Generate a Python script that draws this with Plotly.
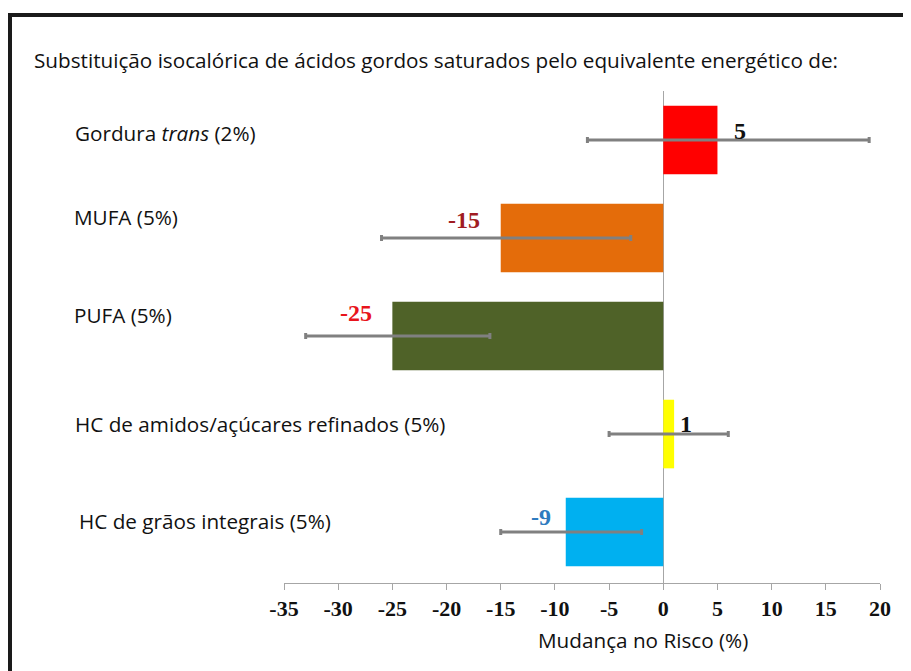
import plotly.graph_objects as go

categories = ["Gordura <i>trans</i> (2%)", "MUFA (5%)", "PUFA (5%)",
              "HC de amidos/açúcares refinados (5%)", "HC de grãos integrais (5%)"]
values = [5, -15, -25, 1, -9]
ci_low = [-7, -26, -33, -5, -15]
ci_high = [19, -3, -16, 6, -2]
value_labels = ["5", "-15", "-25", "1", "-9"]
tick_values = [-35, -30, -25, -20, -15, -10, -5, 0, 5, 10, 15, 20]

bar_colors = ["#ff0000", "#e46c0a", "#4f6228", "#ffff00", "#00b0f0"]
label_colors = ["#111111", "#a01c22", "#e8141c", "#111111", "#2e7bbf"]
# styling offsets (pixels) for value labels and category labels
val_xshift = [23, -37, -36, 12, -25]
val_yshift = [9, 18, 23, 10, 15]
cat_yshift = [7, 21, 21, 10, 11]

# page has an 8px body margin; figure sized to fit the window
W, H = 903, 663
OFF = 8
PL, PR, PT, PB = 284 - OFF, 880 - OFF, 91 - OFF, 583 - OFF
PW, PH = PR - PL, PB - PT


def px_to_paper_x(px):
    return (px - OFF - PL) / PW


def px_to_paper_y(py):
    return (PB - (py - OFF)) / PH


cat_x = [px_to_paper_x(p) for p in (73, 72, 72, 73, 77)]
ypos = list(range(len(categories)))
SANS = dict(family="Open Sans", size=20.7, color="#111111")

fig = go.Figure()
fig.add_trace(go.Bar(
    x=values, y=ypos, orientation="h", width=0.7,
    marker=dict(color=bar_colors, line=dict(width=0)),
    error_x=dict(type="data", symmetric=False,
                 array=[h - v for h, v in zip(ci_high, values)],
                 arrayminus=[v - l for l, v in zip(ci_low, values)],
                 color="#808080", thickness=3, width=3),
    hoverinfo="skip", showlegend=False,
))

annotations = []
for i, (v, t) in enumerate(zip(values, value_labels)):
    annotations.append(dict(
        x=v, y=ypos[i], xref="x", yref="y", text=f"<b>{t}</b>", showarrow=False,
        xshift=val_xshift[i], yshift=val_yshift[i],
        font=dict(family="Liberation Serif", size=24, color=label_colors[i]),
    ))
for i, c in enumerate(categories):
    annotations.append(dict(
        x=cat_x[i], y=ypos[i], xref="paper", yref="y", text=c, showarrow=False,
        xanchor="left", yshift=cat_yshift[i], font=SANS,
    ))
annotations.append(dict(
    x=px_to_paper_x(32), y=px_to_paper_y(60), xref="paper", yref="paper",
    xanchor="left", yanchor="middle", showarrow=False,
    text="Substituição isocalórica de ácidos gordos saturados pelo equivalente energético de:",
    font=SANS,
))
annotations.append(dict(
    x=px_to_paper_x(643), y=px_to_paper_y(640), xref="paper", yref="paper",
    xanchor="center", yanchor="middle", showarrow=False,
    text="Mudança no Risco (%)", font=SANS,
))

fig.update_layout(
    width=W, height=H,
    margin=dict(l=PL, r=W - PR, t=PT, b=H - PB),
    plot_bgcolor="white", paper_bgcolor="white",
    xaxis=dict(range=[-35, 20], tickvals=tick_values,
               ticktext=[f"<b>{t}</b>" for t in tick_values],
               tickfont=dict(family="Liberation Serif", size=22, color="#111111"),
               showgrid=False, zeroline=True, zerolinecolor="#a6a6a6", zerolinewidth=1,
               showline=True, linecolor="#a6a6a6", linewidth=1,
               ticks="outside", ticklen=6, tickcolor="#a6a6a6"),
    yaxis=dict(range=[4.52, -0.5], showticklabels=False, showgrid=False,
               zeroline=False, showline=False, ticks=""),
    annotations=annotations,
    shapes=[dict(type="rect", xref="paper", yref="paper",
                 x0=px_to_paper_x(10), x1=px_to_paper_x(960),
                 y0=px_to_paper_y(720), y1=px_to_paper_y(15),
                 line=dict(color="#1a1a1a", width=4), fillcolor="rgba(0,0,0,0)")],
)

fig.write_html("out.html")
